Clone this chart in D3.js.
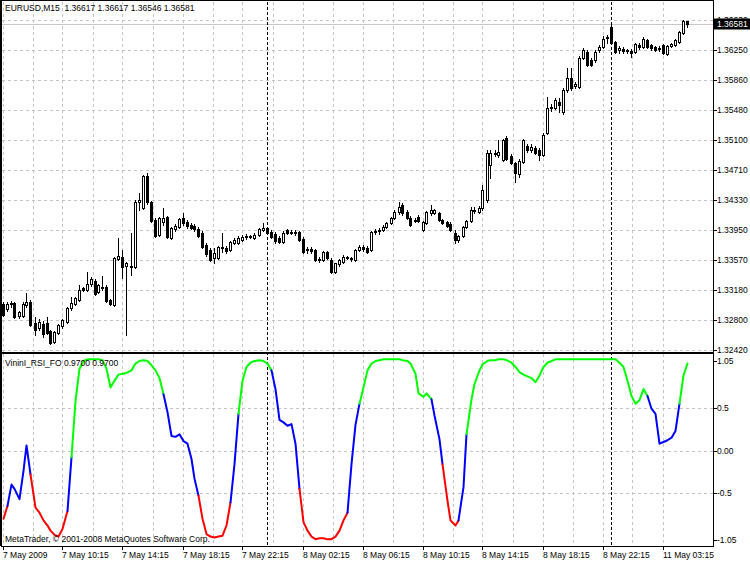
<!DOCTYPE html>
<html><head><meta charset="utf-8">
<script src="https://cdn.jsdelivr.net/npm/d3@7"></script>
<style>
body{margin:0;background:#fff}
svg{display:block}
text{font-family:"Liberation Sans",Arial,sans-serif;font-size:8.5px;fill:#000;white-space:pre}
</style>
</head><body>
<svg id="c" width="750" height="563"></svg>
<script>
const symbol = "EURUSD,M15";
const openP = [1.3301,1.3294,1.3301,1.3302,1.3285,1.3285,1.3299,1.3303,1.3276,1.3270,
1.3275,1.3276,1.3266,1.3252,1.3264,1.3273,1.3278,1.3296,1.3301,1.3306,
1.3321,1.3319,1.3326,1.3330,1.3316,1.3322,1.3322,1.3306,1.3299,1.3358,
1.3361,1.3349,1.3349,1.3348,1.3431,1.3423,1.3464,1.3431,1.3408,1.3389,
1.3405,1.3412,1.3385,1.3396,1.3399,1.3410,1.3405,1.3402,1.3400,1.3396,
1.3391,1.3376,1.3370,1.3359,1.3359,1.3373,1.3372,1.3370,1.3379,1.3379,
1.3382,1.3386,1.3387,1.3385,1.3389,1.3395,1.3398,1.3393,1.3390,1.3385,
1.3380,1.3395,1.3391,1.3393,1.3393,1.3384,1.3370,1.3371,1.3370,1.3358,
1.3357,1.3367,1.3357,1.3341,1.3352,1.3354,1.3361,1.3359,1.3357,1.3370,
1.3373,1.3372,1.3370,1.3393,1.3394,1.3395,1.3399,1.3404,1.3410,1.3418,
1.3427,1.3418,1.3410,1.3408,1.3412,1.3395,1.3404,1.3417,1.3417,1.3417,
1.3408,1.3405,1.3403,1.3391,1.3382,1.3387,1.3399,1.3407,1.3421,1.3418,
1.3423,1.3433,1.3478,1.3493,1.3491,1.3484,1.3512,1.3490,1.3481,1.3467,
1.3482,1.3502,1.3497,1.3500,1.3497,1.3491,1.3519,1.3551,1.3551,1.3558,
1.3546,1.3574,1.3589,1.3579,1.3578,1.3615,1.3622,1.3612,1.3612,1.3625,
1.3629,1.3641,1.3654,1.3635,1.3625,1.3626,1.3624,1.3624,1.3622,1.3631,
1.3629,1.3638,1.3631,1.3629,1.3627,1.3631,1.3620,1.3630,1.3631,1.3635,
1.3646,1.36617];
const highP = [1.3303,1.3303,1.3305,1.3303,1.3292,1.3303,1.3315,1.3306,1.3284,1.3282,
1.3279,1.3284,1.3268,1.3266,1.3275,1.3282,1.3297,1.3310,1.3310,1.3325,
1.3322,1.3341,1.3335,1.3333,1.3326,1.3336,1.3325,1.3307,1.3361,1.3385,
1.3370,1.3354,1.3391,1.3433,1.3442,1.3465,1.3468,1.3432,1.3410,1.3412,
1.3423,1.3413,1.3399,1.3403,1.3410,1.3417,1.3408,1.3404,1.3403,1.3399,
1.3394,1.3379,1.3372,1.3372,1.3375,1.3391,1.3375,1.3381,1.3385,1.3387,
1.3389,1.3390,1.3389,1.3391,1.3398,1.3404,1.3399,1.3395,1.3393,1.3387,
1.3394,1.3396,1.3395,1.3395,1.3394,1.3386,1.3373,1.3373,1.3371,1.3361,
1.3368,1.3368,1.3359,1.3353,1.3358,1.3363,1.3362,1.3361,1.3371,1.3376,
1.3376,1.3375,1.3394,1.3396,1.3398,1.3402,1.3405,1.3412,1.3421,1.3431,
1.3430,1.3421,1.3413,1.3410,1.3414,1.3407,1.3419,1.3427,1.3422,1.3418,
1.3409,1.3407,1.3405,1.3395,1.3389,1.3400,1.3408,1.3424,1.3424,1.3426,
1.3453,1.3497,1.3497,1.3497,1.3510,1.3511,1.3515,1.3492,1.3482,1.3486,
1.3511,1.3505,1.3505,1.3502,1.3500,1.3519,1.3565,1.3556,1.3564,1.3564,
1.3576,1.3602,1.3602,1.3584,1.3617,1.3627,1.3625,1.3615,1.3625,1.3631,
1.3643,1.3644,1.3657,1.3636,1.3630,1.3629,1.3626,1.3626,1.3634,1.3634,
1.3641,1.3639,1.3633,1.3630,1.3630,1.3633,1.3631,1.3634,1.3639,1.3649,
1.3663,1.36617];
const lowP = [1.3285,1.3292,1.3297,1.3283,1.3283,1.3284,1.3297,1.3273,1.3261,1.3268,
1.3259,1.3262,1.3250,1.3251,1.3262,1.3270,1.3276,1.3293,1.3299,1.3305,
1.3317,1.3317,1.3324,1.3312,1.3315,1.3319,1.3303,1.3299,1.3298,1.3357,
1.3334,1.3261,1.3338,1.3347,1.3421,1.3422,1.3428,1.3405,1.3386,1.3387,
1.3402,1.3385,1.3384,1.3394,1.3398,1.3402,1.3398,1.3396,1.3394,1.3386,
1.3372,1.3362,1.3356,1.3353,1.3358,1.3367,1.3366,1.3368,1.3377,1.3377,
1.3381,1.3384,1.3385,1.3384,1.3387,1.3394,1.3390,1.3385,1.3379,1.3379,
1.3379,1.3390,1.3390,1.3389,1.3381,1.3366,1.3366,1.3366,1.3356,1.3354,
1.3356,1.3358,1.3340,1.3340,1.3349,1.3353,1.3358,1.3356,1.3356,1.3368,
1.3368,1.3366,1.3368,1.3390,1.3390,1.3394,1.3398,1.3403,1.3409,1.3416,
1.3414,1.3409,1.3400,1.3405,1.3405,1.3394,1.3403,1.3414,1.3416,1.3407,
1.3403,1.3399,1.3394,1.3379,1.3380,1.3386,1.3398,1.3405,1.3417,1.3417,
1.3421,1.3431,1.3461,1.3490,1.3488,1.3483,1.3484,1.3479,1.3456,1.3463,
1.3481,1.3495,1.3495,1.3492,1.3484,1.3490,1.3518,1.3547,1.3550,1.3546,
1.3543,1.3571,1.3574,1.3576,1.3576,1.3613,1.3604,1.3604,1.3609,1.3622,
1.3627,1.3634,1.3633,1.3621,1.3621,1.3621,1.3621,1.3616,1.3621,1.3626,
1.3627,1.3627,1.3625,1.3624,1.3624,1.3620,1.3618,1.3629,1.3630,1.3634,
1.3645,1.36546];
const closeP = [1.3287,1.3301,1.3302,1.3284,1.3290,1.3301,1.3303,1.3274,1.3268,1.3278,
1.3262,1.3264,1.3251,1.3265,1.3274,1.3280,1.3296,1.3302,1.3308,1.3319,
1.3319,1.3326,1.3333,1.3313,1.3325,1.3321,1.3305,1.3301,1.3359,1.3362,
1.3348,1.3353,1.3348,1.3431,1.3433,1.3464,1.3431,1.3407,1.3387,1.3410,
1.3410,1.3386,1.3398,1.3400,1.3409,1.3404,1.3400,1.3398,1.3396,1.3387,
1.3373,1.3364,1.3357,1.3366,1.3373,1.3372,1.3368,1.3380,1.3382,1.3385,
1.3386,1.3387,1.3386,1.3389,1.3396,1.3398,1.3391,1.3386,1.3381,1.3380,
1.3391,1.3391,1.3393,1.3391,1.3382,1.3367,1.3371,1.3368,1.3357,1.3357,
1.3367,1.3359,1.3341,1.3353,1.3357,1.3361,1.3359,1.3358,1.3370,1.3373,
1.3371,1.3367,1.3393,1.3394,1.3395,1.3399,1.3404,1.3410,1.3418,1.3424,
1.3417,1.3410,1.3402,1.3407,1.3407,1.3405,1.3418,1.3421,1.3421,1.3408,
1.3404,1.3400,1.3395,1.3382,1.3387,1.3399,1.3407,1.3421,1.3419,1.3423,
1.3446,1.3493,1.3493,1.3492,1.3495,1.3510,1.3486,1.3481,1.3468,1.3483,
1.3510,1.3497,1.3501,1.3493,1.3491,1.3516,1.3551,1.3552,1.3561,1.3555,
1.3574,1.3589,1.3576,1.3581,1.3615,1.3625,1.3606,1.3606,1.3622,1.3629,
1.3639,1.3640,1.3634,1.3622,1.3627,1.3624,1.3625,1.3621,1.3633,1.3629,
1.3639,1.3629,1.3627,1.3625,1.3626,1.3621,1.3630,1.3633,1.3638,1.3648,
1.3662,1.36581];

const rsiValues = [-0.80,-0.65,-0.40,-0.45,-0.57,-0.24,0.06,-0.28,-0.67,-0.73,
-0.82,-0.88,-0.94,-0.99,-1.01,-0.92,-0.71,-0.08,0.58,0.96,
1.05,1.07,1.07,1.07,1.07,1.06,0.96,0.74,0.82,0.89,
0.90,0.91,0.94,1.02,1.05,1.06,1.05,1.00,0.94,0.85,
0.66,0.45,0.17,0.16,0.19,0.11,0.08,-0.10,-0.33,-0.53,
-0.80,-0.98,-1.01,-1.02,-1.01,-1.00,-0.88,-0.61,-0.16,0.43,
0.82,0.98,1.03,1.05,1.06,1.05,1.02,0.94,0.72,0.36,
0.33,0.29,0.31,0.08,-0.45,-0.84,-0.94,-1.01,-1.04,-1.03,
-1.03,-1.04,-1.04,-1.01,-0.94,-0.82,-0.73,-0.16,0.30,0.55,
0.74,0.94,1.02,1.05,1.06,1.07,1.07,1.07,1.07,1.07,
1.06,1.05,1.02,0.90,0.67,0.63,0.67,0.60,0.41,0.13,
-0.16,-0.59,-0.82,-0.88,-0.82,-0.43,0.19,0.60,0.78,0.94,
1.01,1.05,1.06,1.06,1.07,1.07,1.06,1.03,0.98,0.92,
0.89,0.87,0.85,0.80,0.88,0.98,1.03,1.05,1.07,1.07,
1.07,1.07,1.07,1.07,1.07,1.07,1.07,1.07,1.07,1.07,
1.07,1.07,1.07,1.07,1.03,0.98,0.82,0.64,0.55,0.59,
0.72,0.64,0.49,0.43,0.08,0.10,0.12,0.15,0.23,0.55,
0.88,1.02];
// colour state of each line segment, as runs: [state, number of segments]
const rsiColorRuns = [["r",1],["b",6],["r",9],["b",1],["g",23],["b",9],["r",8],["b",2],["g",8],["b",7],
["r",12],["b",3],["g",18],["b",3],["r",4],["b",2],["g",45],["b",8],["g",3]];
const rsiColors = {g:"#00ff00", b:"#0000ff", r:"#ff0000"};

const timeLabels = ["7 May 2009","7 May 10:15","7 May 14:15","7 May 18:15","7 May 22:15","8 May 02:15",
"8 May 06:15","8 May 10:15","8 May 14:15","8 May 18:15","8 May 22:15","11 May 03:15"];
const timeLabelBars = [0,15,30,45,60,75,90,105,120,135,150,165];
const separatorBars = [66,152];
const priceTicks = [1.32420,1.32800,1.33180,1.33570,1.33950,1.34330,1.34710,1.35100,1.35480,1.35860,1.36250,1.36630];
const rsiTicks = [1.05,0.5,0,-0.5,-1.05];
const rsiTickLabels = ["1.05","0.5","0.00","-0.5","-1.05"];
const rsiGridLevels = [0.5,0,-0.5];
const indicatorName = "VininI_RSI_FO 0.9700 0.9700";
const copyright = "MetaTrader, \u00a9 2001-2008 MetaQuotes Software Corp.";

const N = closeP.length;
const svg = d3.select("#c");

// layout
const plotL = 1, plotR = 713;
const mainT = 1, mainB = 352;
const indT = 353, indB = 546;

const xBand = d3.scaleBand().domain(d3.range(N)).range([2, 690]);
const xl = d3.scaleLinear().domain([0, N - 1]).range([xBand(0) + xBand.bandwidth()/2, xBand(N-1) + xBand.bandwidth()/2]);
const col = b => Math.floor(xl(b)) - 1;
const yP = d3.scaleLinear().domain([1.32420, 1.36630]).range([350, 20]);
const yR = d3.scaleLinear().domain([-1.05, 1.05]).range([540, 361]);

const gridColor = "#c4c4c4";
const g = svg.append("g");

// vertical grid (every half label step)
const vgrid = d3.range(0, N, 7.5);
[[mainT+1, mainB], [indT+1, indB]].forEach(([t, b]) => {
  g.selectAll(null).data(vgrid).enter().append("line")
    .attr("x1", d => col(d) + 0.5).attr("x2", d => col(d) + 0.5)
    .attr("y1", t).attr("y2", b)
    .attr("stroke", gridColor).attr("stroke-dasharray", "3,3");
});
// horizontal grid main
g.selectAll(null).data(priceTicks).enter().append("line")
  .attr("x1", plotL + 1).attr("x2", plotR)
  .attr("y1", d => Math.round(yP(d)) + 0.5).attr("y2", d => Math.round(yP(d)) + 0.5)
  .attr("stroke", gridColor).attr("stroke-dasharray", "3,3");
// horizontal grid indicator
g.selectAll(null).data(rsiGridLevels).enter().append("line")
  .attr("x1", plotL + 1).attr("x2", plotR)
  .attr("y1", d => Math.round(yR(d)) + 0.5).attr("y2", d => Math.round(yR(d)) + 0.5)
  .attr("stroke", gridColor).attr("stroke-dasharray", "3,3");

// current price line
const lastClose = closeP[N-1];
const yLast = Math.round(yP(lastClose)) + 0.5;
g.append("line").attr("x1", plotL + 1).attr("x2", plotR).attr("y1", yLast).attr("y2", yLast)
  .attr("stroke", "#c8c8c8");

// period separators
separatorBars.forEach(b => {
  g.append("line").attr("x1", col(b) + 0.5).attr("x2", col(b) + 0.5)
    .attr("y1", mainT + 1).attr("y2", indB)
    .attr("stroke", "#000").attr("stroke-dasharray", "3,2");
});

// candles
const cg = svg.append("g");
d3.range(N).forEach(i => {
  const o = openP[i], h = highP[i], l = lowP[i], c = closeP[i];
  const cx = col(i) + 0.5;
  const yh = Math.round(yP(h)), yl = Math.round(yP(l));
  cg.append("line").attr("x1", cx).attr("x2", cx).attr("y1", yh).attr("y2", yl + 1)
    .attr("stroke", "#000");
  const yt = Math.round(yP(Math.max(o, c))), yb = Math.round(yP(Math.min(o, c)));
  const bull = c >= o;
  cg.append("rect").attr("x", col(i) - 0.5).attr("y", yt + 0.5)
    .attr("width", 2).attr("height", Math.max(0, yb - yt))
    .attr("fill", bull ? "#fff" : "#000").attr("stroke", "#000");
});

// indicator line in coloured runs
const rsiLine = d3.line().x(i => col(i) + 0.5).y(i => yR(rsiValues[i]));
let start = 0;
rsiColorRuns.forEach(([s, n]) => {
  const end = Math.min(start + n, N - 1);
  const idx = d3.range(start, end + 1);
  svg.append("path").attr("d", rsiLine(idx)).attr("fill", "none")
    .attr("stroke", rsiColors[s]).attr("stroke-width", 2).attr("stroke-linejoin", "round")
    .attr("stroke-linecap", "round");
  start = end;
});

// frames
svg.append("rect").attr("x", plotL + 0.5).attr("y", mainT - 0.5).attr("width", plotR - plotL).attr("height", mainB - mainT + 1)
  .attr("fill", "none").attr("stroke", "#000");
svg.append("line").attr("x1", 0).attr("x2", plotR).attr("y1", 0.5).attr("y2", 0.5).attr("stroke", "#000");
svg.append("line").attr("x1", 0.5).attr("x2", 0.5).attr("y1", 0).attr("y2", indB).attr("stroke", "#000");
svg.append("rect").attr("x", plotL + 0.5).attr("y", indT + 0.5).attr("width", plotR - plotL).attr("height", indB - indT)
  .attr("fill", "none").attr("stroke", "#000");

// price axis
const ax = svg.append("g");
priceTicks.forEach(p => {
  const y = Math.round(yP(p)) + 0.5;
  ax.append("line").attr("x1", plotR + 1).attr("x2", plotR + 4).attr("y1", y).attr("y2", y).attr("stroke", "#000");
  ax.append("text").attr("x", plotR + 4).attr("y", y).attr("dy", "0.35em").text(p.toFixed(5));
});
// current price box
ax.append("rect").attr("x", plotR + 1).attr("y", yLast - 6).attr("width", 750 - plotR - 1).attr("height", 11).attr("fill", "#000");
ax.append("text").attr("x", plotR + 4).attr("y", yLast).attr("dy", "0.35em").style("fill", "#fff").text(lastClose.toFixed(5));

// indicator axis
rsiTicks.forEach((v, k) => {
  const y = Math.round(yR(v)) + 0.5;
  ax.append("line").attr("x1", plotR + 1).attr("x2", plotR + 4).attr("y1", y).attr("y2", y).attr("stroke", "#000");
  ax.append("text").attr("x", plotR + 4).attr("y", y).attr("dy", "0.35em").text(rsiTickLabels[k]);
});

// time axis
timeLabelBars.forEach((b, k) => {
  const x = col(b) + 0.5;
  ax.append("line").attr("x1", x).attr("x2", x).attr("y1", indB).attr("y2", indB + 4).attr("stroke", "#000");
  ax.append("text").attr("x", col(b)).attr("y", 558).text(timeLabels[k]);
});

// texts
const hdr = symbol + "  " + [openP[N-1], highP[N-1], lowP[N-1], closeP[N-1]].map(v => v.toFixed(5)).join(" ");
svg.append("text").attr("x", 5).attr("y", 11).text(hdr);
svg.append("text").attr("x", 5).attr("y", 366).text(indicatorName);
svg.append("text").attr("x", 5).attr("y", 542).text(copyright);
</script>
</body></html>
